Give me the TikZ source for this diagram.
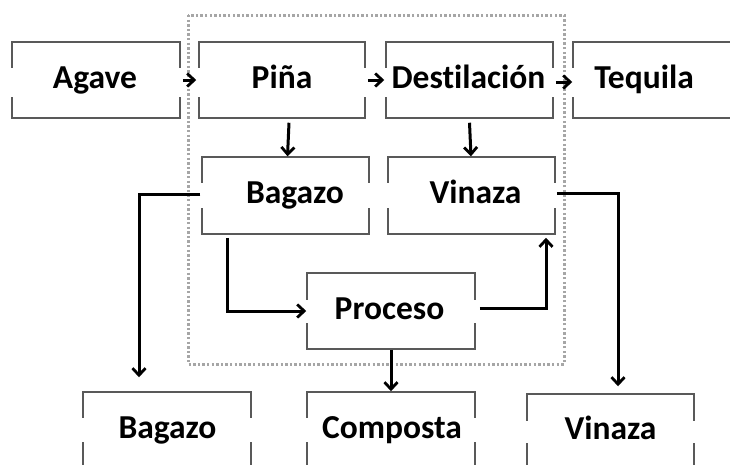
\documentclass[tikz,border=0pt]{standalone}
\usepackage{fontspec}
\setmainfont[Ligatures=NoCommon]{Carlito}
\usetikzlibrary{arrows.meta,calc}
\begin{document}
\begin{tikzpicture}[x=1pt,y=-1pt,
 box/.style={draw=black!65,line width=1.5pt,inner sep=0pt,minimum height=76pt},
 gapmask/.style={fill=white,inner sep=0pt},
 lbl/.style={font=\fontsize{33.5}{38}\selectfont\bfseries,anchor=base,inner sep=0pt},
 conn/.style={line width=3pt,-{Straight Barb[length=7pt,width=13pt,line width=2.8pt]}},
 frame/.style={draw=black!35,line width=3pt,dash pattern=on 2.4pt off 2.2pt}]

\useasboundingbox (0,0) rectangle (730,464);
\clip (0,0) rectangle (730,464);
\fill[white] (0,0) rectangle (730,464);

% dotted frame
\draw[frame] (188,15) rectangle (564,364);

% boxes
\node[box,minimum width=168pt] (agave) at (96,80) {};
\node[box,minimum width=166pt] (pina) at (282,80) {};
\node[box,minimum width=167pt] (destil) at (469.5,80) {};
\node[box,minimum width=168pt] (teq) at (657,80) {};
\node[box,minimum width=167pt,minimum height=77pt] (bagM) at (285.5,195.5) {};
\node[box,minimum width=167pt,minimum height=77pt] (vinM) at (471.5,195.5) {};
\node[box,minimum width=168pt] (proc) at (391,311) {};
\node[box,minimum width=168pt] (bagB) at (167,430) {};
\node[box,minimum width=168pt] (comp) at (391,430) {};
\node[box,minimum width=167pt] (vinB) at (610.5,432) {};

% gaps in the side edges behind the texts
\node[gapmask,minimum width=173pt,minimum height=29pt] (agaveG) at (96,82.5) {};
\node[gapmask,minimum width=171pt,minimum height=29pt] (pinaG) at (282,82.5) {};
\node[gapmask,minimum width=172pt,minimum height=29pt] (destilG) at (469.5,82.5) {};
\node[gapmask,minimum width=173pt,minimum height=29pt] (teqG) at (657,82.5) {};
\node[gapmask,minimum width=172pt,minimum height=25pt] (bagMG) at (285.5,195.5) {};
\node[gapmask,minimum width=172pt,minimum height=25pt] (vinMG) at (471.5,195.5) {};
\node[gapmask,minimum width=173pt,minimum height=23pt] (procG) at (391,311.5) {};
\node[gapmask,minimum width=173pt,minimum height=24pt] (bagBG) at (167,430) {};
\node[gapmask,minimum width=173pt,minimum height=24pt] (compG) at (391,430) {};
\node[gapmask,minimum width=172pt,minimum height=22pt] (vinBG) at (610.5,432) {};

% texts
\node[lbl] (agaveT) at (95,88) {Agave};
\node[lbl] (pinaT) at (282,88) {Piña};
\node[lbl] (destilT) at (468.5,88) {Destilación};
\node[lbl] (teqT) at (644,88) {Tequila};
\node[lbl] (bagMT) at (295,203) {Bagazo};
\node[lbl] (vinMT) at (475.5,203) {Vinaza};
\node[lbl] (procT) at (389.5,319) {Proceso};
\node[lbl] (bagBT) at (167.5,438) {Bagazo};
\node[lbl] (compT) at (392,438) {Composta};
\node[lbl] (vinBT) at (610.5,439) {Vinaza};

% connectors
\draw[conn] ([xshift=2pt]agave.east) -- ([xshift=-2pt]pina.west);
\draw[conn] ([xshift=2pt]pina.east) -- ([xshift=-1pt]destil.west);
\draw[conn] ([xshift=2pt,yshift=-2pt]destil.east) -- ([yshift=-2pt]teq.west);
\draw[conn] ([xshift=7pt,yshift=-4pt]pina.south) -- ([xshift=2pt]bagM.north);
\draw[conn] ([yshift=-4pt]destil.south) -- ([xshift=-0.5pt]vinM.north);
\draw[conn] ([xshift=-1pt,yshift=1.5pt]bagM.west) -| ($(bagB.north)+(-28,-14)$);
\draw[conn] ([xshift=-58.5pt,yshift=-3pt]bagM.south) |- (proc.west);
\draw[conn] ([xshift=4pt,yshift=3pt]proc.east) -| ([xshift=74.5pt,yshift=-3pt]vinM.south);
\draw[conn] ([xshift=1pt,yshift=2.5pt]vinM.east) -| ($(vinB.north)+(7.5,-7)$);
\draw[conn] (proc.south) -- (comp.north);
\end{tikzpicture}
\end{document}
